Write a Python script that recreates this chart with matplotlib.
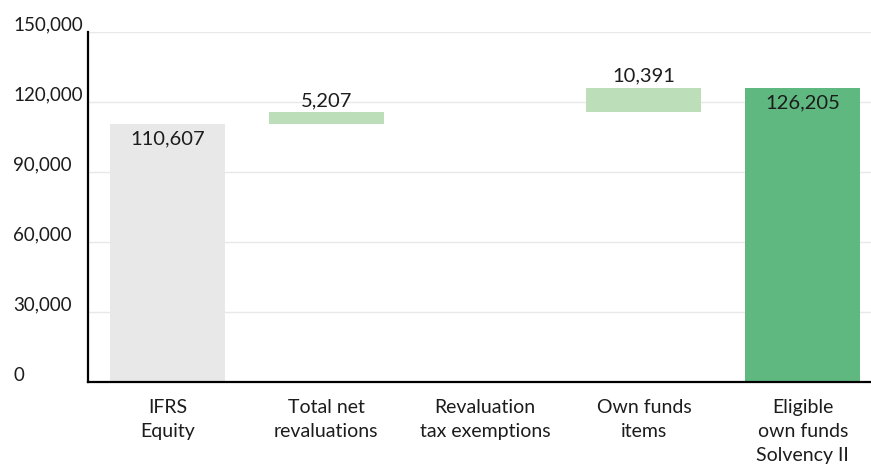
import matplotlib.pyplot as plt
from matplotlib.transforms import ScaledTranslation

categories = ['IFRS\nEquity', 'Total net\nrevaluations', 'Revaluation\ntax exemptions',
              'Own funds\nitems', 'Eligible\nown funds\nSolvency II']
values = [110607, 5207, 0, 10391, 126205]
kinds = ['total', 'delta', 'delta', 'delta', 'total']
yticks = [0, 30000, 60000, 90000, 120000, 150000]

colors = {'start': '#e8e8e8', 'delta': '#bcdeb8', 'end': '#5fb87f'}
text_color = '#1c1c1c'

plt.rcParams['font.family'] = ['Lato', 'DejaVu Sans']

fig = plt.figure(figsize=(8.71, 4.67), dpi=100)
ax = fig.add_axes([88 / 871, 85 / 467, 783 / 871, 350 / 467])

running = 0
for i, (v, kind) in enumerate(zip(values, kinds)):
    if kind == 'total':
        base = 0
        color = colors['start'] if i == 0 else colors['end']
        running = v
    else:
        base = running
        color = colors['delta']
        running += v
    ax.bar(i, v, bottom=base, width=0.725, color=color, zorder=2)
    if v == 0:
        continue
    label = f'{v:,}'
    if kind == 'total':
        ax.annotate(label, (i, base + v), xytext=(0, -5), textcoords='offset points',
                    ha='center', va='top', fontsize=14.5, color=text_color)
    else:
        ax.annotate(label, (i, base + v), xytext=(0, 2), textcoords='offset points',
                    ha='center', va='bottom', fontsize=14.5, color=text_color)

ax.set_xlim(-0.5, 4.43)
ax.set_ylim(0, 150000)
ax.set_yticks(yticks)
ax.set_yticklabels([f'{t:,}' for t in yticks], fontsize=13.5, color=text_color)
ax.grid(axis='y', color='#e8e8e8', linewidth=1, zorder=0)
ax.set_xticks(range(len(categories)))
ax.set_xticklabels(categories, fontsize=14, color=text_color, linespacing=1.5)
ax.tick_params(axis='x', length=0, pad=12)
ax.tick_params(axis='y', length=0, pad=54)

# tick labels sit left-aligned and slightly above their gridline
shift = ScaledTranslation(0, 6 / 72, fig.dpi_scale_trans)
for lab in ax.get_yticklabels():
    lab.set_horizontalalignment('left')
    lab.set_transform(lab.get_transform() + shift)

for side in ['top', 'right']:
    ax.spines[side].set_visible(False)
ax.spines['left'].set_linewidth(1.6)
ax.spines['bottom'].set_linewidth(1.6)
ax.spines['left'].set_color('black')
ax.spines['bottom'].set_color('black')

fig.savefig('out.png', dpi=100)
